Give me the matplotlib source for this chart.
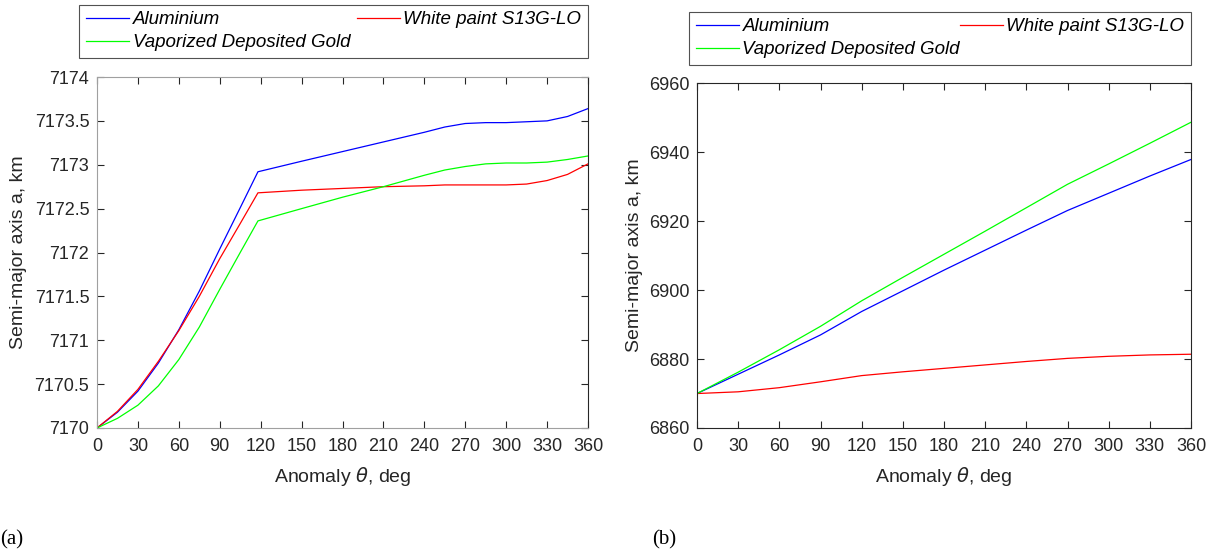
"""Semi-major axis vs anomaly for three surface coatings, panels (a) and (b)."""

import matplotlib
matplotlib.use("Agg")
import matplotlib.pyplot as plt
from matplotlib.ticker import FuncFormatter

# panel (a)
theta_a = [0, 15, 30, 45, 60, 75, 90, 105, 118, 150, 180, 210, 240, 255, 270,
           285, 300, 315, 330, 345, 360]
al_a = [7170.00, 7170.18, 7170.42, 7170.74, 7171.12, 7171.56, 7172.04, 7172.51,
        7172.92, 7173.04, 7173.15, 7173.26, 7173.37, 7173.43, 7173.47, 7173.48,
        7173.48, 7173.49, 7173.50, 7173.55, 7173.64]
wp_a = [7170.00, 7170.19, 7170.44, 7170.76, 7171.11, 7171.50, 7171.93, 7172.33,
        7172.68, 7172.71, 7172.73, 7172.75, 7172.76, 7172.77, 7172.77, 7172.77,
        7172.77, 7172.78, 7172.82, 7172.89, 7173.01]
gold_a = [7170.00, 7170.11, 7170.26, 7170.48, 7170.78, 7171.15, 7171.58, 7172.00,
          7172.36, 7172.50, 7172.63, 7172.75, 7172.88, 7172.94, 7172.98, 7173.01,
          7173.02, 7173.02, 7173.03, 7173.06, 7173.10]

# panel (b)
theta_b = [0, 30, 60, 90, 120, 150, 180, 210, 240, 270, 300, 330, 360]
al_b = [6870.0, 6875.6, 6881.2, 6887.0, 6893.8, 6899.8, 6905.8, 6911.6, 6917.4,
        6923.1, 6928.1, 6933.1, 6937.9]
wp_b = [6870.0, 6870.5, 6871.7, 6873.4, 6875.2, 6876.3, 6877.3, 6878.3, 6879.3,
        6880.2, 6880.8, 6881.2, 6881.4]
gold_b = [6870.0, 6876.2, 6882.7, 6889.5, 6896.9, 6903.7, 6910.4, 6917.1, 6923.9,
          6930.7, 6936.6, 6942.6, 6948.7]

xticks = list(range(0, 361, 30))
yticks_a = [7170 + 0.5 * i for i in range(9)]
yticks_b = list(range(6860, 6961, 20))

BLUE, RED, GREEN = "#0000ff", "#ff0000", "#00ff00"
plt.rcParams["font.family"] = ["Liberation Sans", "DejaVu Sans"]
plt.rcParams["mathtext.fontset"] = "dejavusans"

fig = plt.figure(figsize=(12.17, 5.54), dpi=100)
W, H = 1217, 554


def frac(x0, x1, y_top, y_bot):
    return [x0 / W, 1 - y_bot / H, (x1 - x0) / W, (y_bot - y_top) / H]


ax_a = fig.add_axes(frac(97, 588, 77, 428))
ax_b = fig.add_axes(frac(697, 1191, 83.3, 428))

panels = [
    (ax_a, theta_a, al_a, wp_a, gold_a, yticks_a, frac(79.3, 588, 4.7, 56)),
    (ax_b, theta_b, al_b, wp_b, gold_b, yticks_b, frac(689, 1191, 11.7, 62.3)),
]

for ax, th, al, wp, gold, yt, lbox in panels:
    l1, = ax.plot(th, al, color=BLUE, lw=0.9, label="Aluminium")
    l2, = ax.plot(th, wp, color=RED, lw=0.9, label="White paint S13G-LO")
    l3, = ax.plot(th, gold, color=GREEN, lw=0.9, label="Vaporized Deposited Gold")
    ax.set_xlim(0, 360)
    ax.set_ylim(yt[0], yt[-1])
    ax.set_xticks(xticks)
    ax.set_yticks(yt)
    ax.yaxis.set_major_formatter(FuncFormatter(lambda v, p: f"{v:g}"))
    ax.tick_params(direction="in", top=True, right=True, length=5, width=0.8,
                   labelsize=13, colors="#262626")
    ax.tick_params(axis="y", pad=5.5)
    ax.tick_params(axis="x", pad=7)
    for s in ax.spines.values():
        s.set_color("#262626")
        s.set_linewidth(0.8)
    ax.set_xlabel(r"Anomaly $\theta$, deg", fontsize=14, color="#262626")
    ax.set_ylabel("Semi-major axis a, km", fontsize=14, color="#262626")
    leg = fig.legend([l1, l3, l2], [l1.get_label(), l3.get_label(), l2.get_label()],
                     loc="upper left", bbox_to_anchor=(lbox[0], lbox[1], lbox[2], lbox[3]),
                     mode="expand", ncol=2, borderaxespad=0, fancybox=False,
                     prop={"style": "italic", "size": 13.5}, handlelength=2.3,
                     handletextpad=0.2, labelspacing=0.3, borderpad=0.35,
                     columnspacing=0.5)
    leg.get_frame().set_edgecolor("#262626")
    leg.get_frame().set_linewidth(0.8)

for s in ("left", "top", "bottom"):
    ax_a.spines[s].set_color("#a0a0a0")

ax_a.xaxis.set_label_coords(0.5, -0.105)
ax_b.xaxis.set_label_coords(0.5, -0.107)
ax_a.yaxis.set_label_coords(-0.143, 0.5)
ax_b.yaxis.set_label_coords(-0.11, 0.5)

fig.text(0 / W, 1 - 540 / H, "(a)", family="Liberation Serif", fontsize=15, va="center")
fig.text(652 / W, 1 - 540 / H, "(b)", family="Liberation Serif", fontsize=15, va="center")

fig.savefig("out.png", dpi=100)
